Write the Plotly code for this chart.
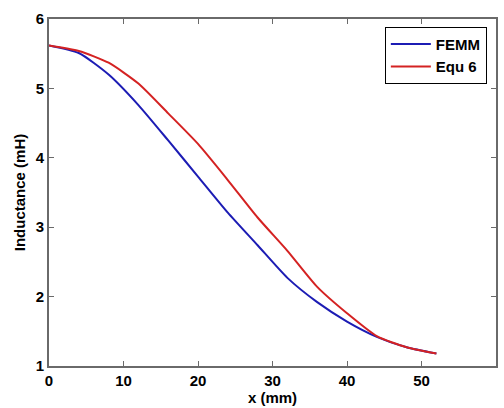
import plotly.graph_objects as go

x_mm = [0, 4, 8, 12, 16, 20, 24, 28, 32, 36, 40, 44, 48, 52]
femm = [5.62, 5.51, 5.20, 4.76, 4.25, 3.73, 3.21, 2.74, 2.27, 1.92, 1.64, 1.42, 1.27, 1.18]
equ6 = [5.62, 5.54, 5.37, 5.07, 4.64, 4.20, 3.68, 3.14, 2.66, 2.14, 1.76, 1.43, 1.27, 1.18]

x_ticks = [0, 10, 20, 30, 40, 50, 60]
y_ticks = [1, 2, 3, 4, 5, 6]

FONT = "Liberation Sans, Arial"

fig = go.Figure()
fig.add_trace(go.Scatter(x=x_mm, y=femm, mode="lines", name="FEMM",
                         line=dict(color="#1c1cb4", width=2, shape="spline", smoothing=0.6)))
fig.add_trace(go.Scatter(x=x_mm, y=equ6, mode="lines", name="Equ 6",
                         line=dict(color="#d42222", width=2, shape="spline", smoothing=0.6)))

axis_common = dict(showline=True, mirror="ticks", linecolor="#6a6a6a", linewidth=2,
                   ticks="inside", ticklen=5, tickcolor="#6a6a6a", tickwidth=1,
                   showgrid=False, zeroline=False,
                   tickfont=dict(family=FONT, size=15, color="black", weight="bold"))

fig.update_layout(
    width=504, height=408,
    margin=dict(l=49, r=6, t=19, b=40),
    paper_bgcolor="white", plot_bgcolor="white",
    font=dict(family=FONT, color="black"),
    xaxis=dict(range=[0, 60], tickvals=x_ticks,
               title=dict(text="x (mm)", font=dict(size=15, weight="bold"), standoff=2),
               **axis_common),
    yaxis=dict(range=[1, 6], tickvals=y_ticks,
               title=dict(text="Inductance (mH)", font=dict(size=15, weight="bold"), standoff=6),
               **axis_common),
    legend=dict(x=0.9795, y=0.978, xanchor="right", yanchor="top",
                bgcolor="white", bordercolor="black", borderwidth=1,
                font=dict(size=15, family=FONT, weight="bold"),
                tracegroupgap=0, itemwidth=40),
    showlegend=True,
)

fig.write_html("out.html", config={"displayModeBar": False},
               post_script="document.body.style.margin='0';document.body.style.overflow='hidden';")
